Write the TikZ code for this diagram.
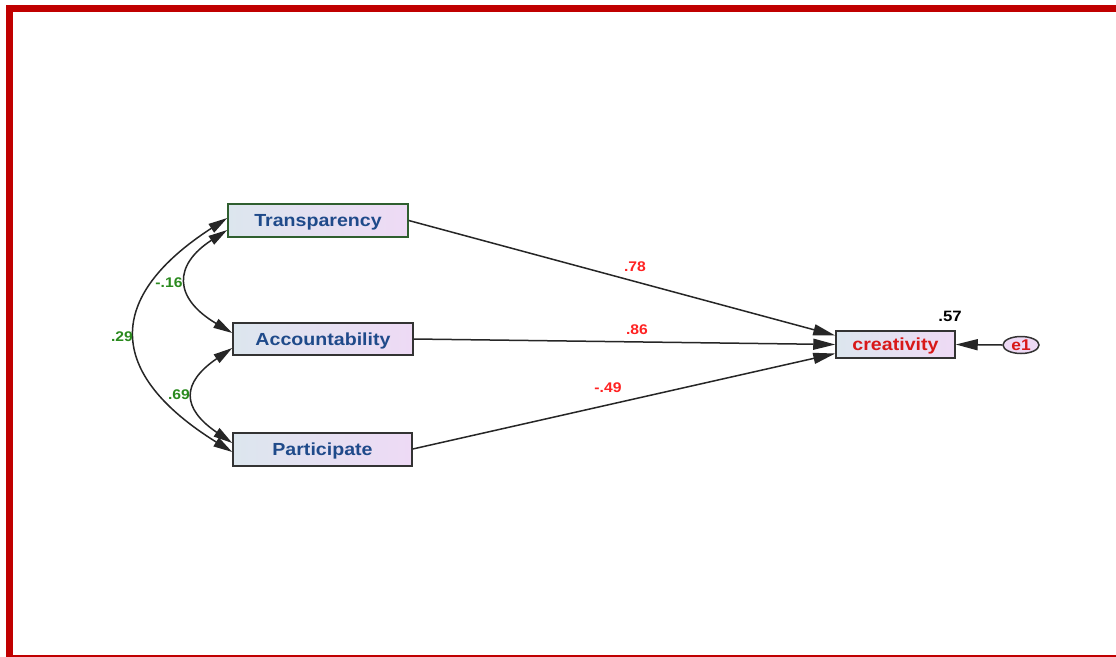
\documentclass[tikz,border=0pt]{standalone}
\usepackage{fontspec}
\setmainfont{Liberation Sans}[FakeStretch=1.12]
\usetikzlibrary{arrows.meta,shapes.geometric,calc}
\definecolor{frame}{HTML}{C00000}
\definecolor{boxL}{HTML}{DCE6EE}
\definecolor{boxR}{HTML}{EEDAF5}
\definecolor{navy}{HTML}{1F4A8A}
\definecolor{dred}{HTML}{D81818}
\definecolor{lred}{HTML}{FF2222}
\definecolor{grn}{HTML}{2A8A1E}
\definecolor{dgrn}{HTML}{2F5F2F}
\tikzset{
  varbox/.style={draw=black!80, line width=1.5pt, left color=boxL, right color=boxR,
     minimum height=32pt, inner sep=0pt, text height=12.5pt, text depth=0pt, text=navy, font=\fontsize{17.5}{20}\selectfont\bfseries},
  pth/.style={-{Triangle[length=22pt,width=11pt]}, line width=1.5pt, black!85},
  cov/.style={{Triangle[length=19pt,width=10pt]}-{Triangle[length=19pt,width=10pt]}, line width=1.5pt, black!85},
  plab/.style={text=lred, font=\fontsize{14}{16}\selectfont\bfseries, inner sep=0pt},
  clab/.style={text=grn, font=\fontsize{14}{16}\selectfont\bfseries, inner sep=0pt},
}
\begin{document}
\begin{tikzpicture}[x=1pt,y=-1pt]
\useasboundingbox (0,0) rectangle (1116,656);
\begin{scope}
\clip (0,0) rectangle (1116,656);
\fill[white] (0,0) rectangle (1116,656);
\draw[frame, line width=7pt] (9.5,8.5) rectangle (1130,658);
\end{scope}

\node[varbox, draw=dgrn, minimum width=180pt, minimum height=33pt] (tr) at (318,220.5) {Transparency};
\node[varbox, minimum width=180pt] (ac) at (323,339) {Accountability};
\node[varbox, minimum width=179pt, minimum height=33pt] (pa) at (322.5,449.5) {Participate};
\node[varbox, minimum width=119pt, minimum height=27pt, text=dred] (cr) at (895.5,344.5) {creativity};
\node[ellipse, draw=black!80, line width=1.5pt, fill=boxR, minimum width=36pt, minimum height=17pt, inner sep=0pt,
      text=dred, font=\fontsize{15.5}{17}\selectfont\bfseries] (e1) at (1021,345) {e1};

% paths
\draw[pth] (tr.east) -- ([yshift=9pt]cr.west);
\draw[pth] (ac.east) -- (cr.west);
\draw[pth] ([yshift=0.5pt]pa.east) -- ([yshift=-9pt]cr.west);
\draw[pth] (e1.west) -- (cr.east);

% covariances
\draw[cov] ([yshift=2.5pt]tr.west) .. controls +(-122,79) and +(-127,-79) .. ([yshift=-2.5pt]pa.west);
\draw[cov] ([yshift=-9.5pt]tr.west) .. controls +(-54,35) and +(-59,-35) .. ([yshift=6pt]ac.west);
\draw[cov] ([yshift=-9pt]ac.west) .. controls +(-51,35) and +(-51,-35) .. ([yshift=6.5pt]pa.west);

% labels
\node[plab] (l78) at (635,267) {.78};
\node[plab] (l86) at (637,330) {.86};
\node[plab] (l49) at (608,388) {-.49};
\node[text=black, font=\fontsize{15}{17}\selectfont\bfseries, inner sep=0pt] (l57) at (950,316) {.57};
\node[clab] (l16) at (169,283) {-.16};
\node[clab] (l29) at (122,337) {.29};
\node[clab] (l69) at (179,395) {.69};
\end{tikzpicture}
\end{document}
